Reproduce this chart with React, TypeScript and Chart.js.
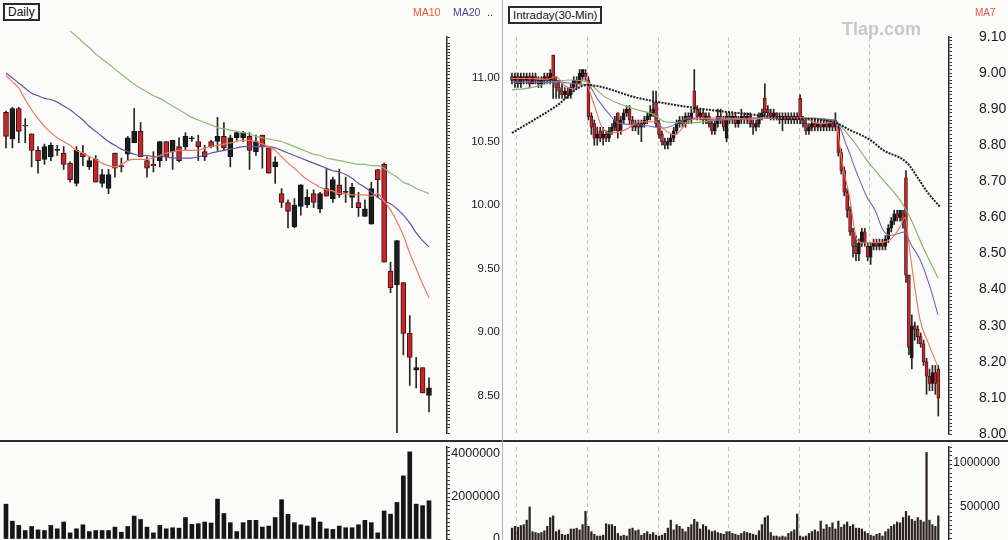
import React, { useEffect, useRef } from "react";
import { Chart, registerables } from "chart.js";

Chart.register(...registerables);

const FONT = "'Liberation Sans', Arial, Helvetica, sans-serif";

// ---------------- Daily panel data ----------------
const dailyOpen = [10.73, 10.52, 10.76, 10.63, 10.56, 10.43, 10.36, 10.38, 10.43, 10.41,
  10.33, 10.17, 10.41, 10.30, 10.36, 10.17, 10.13, 10.41, 10.31, 10.40,
  10.49, 10.58, 10.35, 10.32, 10.35, 10.50, 10.42, 10.46, 10.46, 10.52,
  10.50, 10.42, 10.50, 10.50, 10.54, 10.38, 10.53, 10.53, 10.54, 10.42,
  10.55, 10.45, 10.30, 10.09, 10.02, 9.83, 9.99, 10.00, 10.09, 9.97,
  10.13, 10.05, 10.16, 10.10, 10.06, 10.02, 9.91, 9.85, 10.28, 10.32,
  9.48, 9.37, 9.39, 8.99, 8.70, 8.72, 8.50];
const dailyHigh = [10.74, 10.77, 10.77, 10.68, 10.56, 10.46, 10.48, 10.49, 10.47, 10.46,
  10.34, 10.46, 10.47, 10.38, 10.39, 10.28, 10.28, 10.41, 10.37, 10.54,
  10.76, 10.65, 10.38, 10.42, 10.50, 10.50, 10.51, 10.53, 10.57, 10.54,
  10.55, 10.47, 10.51, 10.69, 10.65, 10.55, 10.58, 10.58, 10.57, 10.55,
  10.55, 10.45, 10.38, 10.13, 10.04, 10.05, 10.16, 10.12, 10.12, 10.10,
  10.29, 10.22, 10.28, 10.22, 10.17, 10.10, 10.04, 10.18, 10.28, 10.33,
  9.55, 9.72, 9.39, 9.13, 8.80, 8.72, 8.64];
const dailyLow = [10.45, 10.45, 10.49, 10.49, 10.30, 10.25, 10.32, 10.35, 10.39, 10.28,
  10.18, 10.15, 10.31, 10.28, 10.18, 10.14, 10.09, 10.22, 10.26, 10.35,
  10.49, 10.38, 10.22, 10.26, 10.30, 10.35, 10.28, 10.34, 10.43, 10.50,
  10.35, 10.35, 10.45, 10.43, 10.43, 10.30, 10.51, 10.50, 10.28, 10.39,
  10.29, 10.25, 10.17, 9.98, 9.82, 9.82, 9.92, 9.98, 9.98, 9.94,
  10.07, 10.02, 10.06, 10.02, 9.98, 9.91, 9.91, 9.85, 10.06, 9.55,
  9.31, 8.20, 8.82, 8.58, 8.56, 8.52, 8.37];
const dailyClose = [10.54, 10.76, 10.58, 10.62, 10.43, 10.35, 10.46, 10.47, 10.44, 10.32,
  10.20, 10.43, 10.38, 10.35, 10.18, 10.24, 10.24, 10.29, 10.30, 10.53,
  10.58, 10.38, 10.29, 10.31, 10.50, 10.38, 10.51, 10.35, 10.54, 10.53,
  10.46, 10.38, 10.46, 10.54, 10.45, 10.53, 10.57, 10.57, 10.43, 10.50,
  10.46, 10.25, 10.34, 10.02, 9.95, 10.00, 10.16, 10.06, 10.02, 10.09,
  10.07, 10.20, 10.08, 10.11, 10.14, 9.98, 9.97, 10.13, 10.20, 9.55,
  9.35, 9.72, 8.99, 8.80, 8.72, 8.52, 8.56];
const dailyMA10 = [11.02, 10.97, 10.92, 10.83, 10.75, 10.68, 10.62, 10.57, 10.53, 10.50,
  10.47, 10.43, 10.41, 10.38, 10.36, 10.33, 10.31, 10.30, 10.32, 10.35,
  10.36, 10.36, 10.36, 10.37, 10.39, 10.41, 10.42, 10.43, 10.43, 10.43,
  10.43, 10.45, 10.46, 10.47, 10.48, 10.49, 10.50, 10.51, 10.51, 10.50,
  10.48, 10.46, 10.43, 10.38, 10.33, 10.29, 10.24, 10.20, 10.17, 10.14,
  10.12, 10.11, 10.09, 10.09, 10.08, 10.08, 10.08, 10.07, 10.09, 10.03,
  9.96, 9.87, 9.76, 9.62, 9.50, 9.38, 9.27];
const dailyMA20 = [11.04, 11.00, 10.96, 10.92, 10.88, 10.86, 10.84, 10.83, 10.81, 10.78,
  10.75, 10.71, 10.67, 10.62, 10.58, 10.54, 10.50, 10.47, 10.44, 10.42,
  10.40, 10.39, 10.39, 10.38, 10.38, 10.38, 10.37, 10.37, 10.37, 10.37,
  10.38, 10.39, 10.41, 10.42, 10.43, 10.44, 10.45, 10.46, 10.46, 10.46,
  10.46, 10.46, 10.45, 10.43, 10.41, 10.39, 10.37, 10.35, 10.33, 10.31,
  10.29, 10.27, 10.26, 10.24, 10.21, 10.17, 10.14, 10.10, 10.06, 10.03,
  10.01, 9.97, 9.92, 9.86, 9.78, 9.72, 9.67];
const dailyMALong = [null, null, null, null, null, null, null, null, null, null,
  11.37, 11.33, 11.28, 11.24, 11.19, 11.15, 11.11, 11.07, 11.03, 10.99,
  10.95, 10.92, 10.89, 10.86, 10.84, 10.81, 10.78, 10.75, 10.72, 10.69,
  10.67, 10.65, 10.63, 10.61, 10.60, 10.59, 10.58, 10.57, 10.56, 10.54,
  10.53, 10.52, 10.51, 10.50, 10.48, 10.46, 10.44, 10.42, 10.40, 10.39,
  10.37, 10.36, 10.35, 10.34, 10.33, 10.32, 10.32, 10.31, 10.31, 10.29,
  10.25, 10.22, 10.18, 10.16, 10.13, 10.11, 10.09];
const dailyVolume = [1640000, 840000, 640000, 400000, 590000, 430000, 400000, 640000, 480000, 800000,
  290000, 480000, 670000, 350000, 400000, 400000, 400000, 560000, 320000, 590000,
  1080000, 920000, 560000, 290000, 640000, 480000, 530000, 510000, 1010000, 690000,
  720000, 800000, 750000, 1880000, 1200000, 770000, 350000, 770000, 880000, 880000,
  560000, 610000, 1010000, 1850000, 1160000, 770000, 670000, 610000, 1000000, 800000,
  480000, 450000, 610000, 530000, 530000, 670000, 880000, 770000, 290000, 1320000,
  1170000, 1720000, 2970000, 4100000, 1640000, 1570000, 1800000];
const dailyPriceLabels = [8.5, 9.0, 9.5, 10.0, 10.5, 11.0];
const dailyVolumeLabels = [0, 2000000, 4000000];

// ---------------- Intraday (30-min) panel data ----------------
const intradayOpen = [8.99, 8.98, 8.99, 8.97, 8.99, 8.98, 8.99, 8.97, 8.99, 8.98,
  8.97, 8.98, 8.99, 8.98, 9.05, 8.98, 8.96, 8.95, 8.94, 8.95,
  8.94, 8.96, 8.98, 8.97, 8.99, 9.00, 8.98, 8.88, 8.86, 8.82,
  8.84, 8.82, 8.83, 8.82, 8.84, 8.85, 8.89, 8.84, 8.87, 8.89,
  8.90, 8.87, 8.85, 8.86, 8.85, 8.86, 8.87, 8.88, 8.89, 8.92,
  8.86, 8.83, 8.81, 8.80, 8.81, 8.82, 8.84, 8.86, 8.87, 8.86,
  8.88, 8.87, 8.95, 8.90, 8.88, 8.89, 8.87, 8.88, 8.86, 8.84,
  8.86, 8.88, 8.87, 8.82, 8.88, 8.87, 8.88, 8.86, 8.87, 8.88,
  8.87, 8.88, 8.86, 8.85, 8.86, 8.88, 8.93, 8.90, 8.89, 8.88,
  8.89, 8.88, 8.87, 8.88, 8.87, 8.88, 8.87, 8.88, 8.93, 8.87,
  8.86, 8.84, 8.85, 8.86, 8.85, 8.86, 8.85, 8.86, 8.85, 8.86,
  8.85, 8.85, 8.78, 8.73, 8.67, 8.62, 8.56, 8.52, 8.50, 8.53,
  8.56, 8.52, 8.49, 8.52, 8.53, 8.52, 8.53, 8.52, 8.54, 8.57,
  8.59, 8.61, 8.60, 8.61, 8.71, 8.44, 8.21, 8.30, 8.29, 8.27,
  8.25, 8.20, 8.16, 8.14, 8.17, 8.18];
const intradayHigh = [9.00, 9.00, 9.00, 9.00, 9.00, 9.00, 9.00, 9.00, 9.00, 8.99,
  8.99, 9.00, 9.00, 9.01, 9.05, 8.99, 8.98, 8.97, 8.96, 8.96,
  8.97, 8.99, 8.99, 9.01, 9.01, 9.01, 8.99, 8.89, 8.87, 8.85,
  8.85, 8.85, 8.84, 8.85, 8.86, 8.88, 8.89, 8.88, 8.90, 8.91,
  8.91, 8.88, 8.87, 8.87, 8.87, 8.88, 8.89, 8.91, 8.95, 8.95,
  8.87, 8.84, 8.82, 8.82, 8.83, 8.85, 8.87, 8.88, 8.88, 8.89,
  8.89, 8.90, 9.01, 8.91, 8.90, 8.90, 8.89, 8.89, 8.87, 8.87,
  8.90, 8.90, 8.88, 8.89, 8.89, 8.89, 8.89, 8.88, 8.90, 8.89,
  8.89, 8.89, 8.87, 8.87, 8.89, 8.90, 8.97, 8.91, 8.90, 8.90,
  8.89, 8.89, 8.89, 8.89, 8.89, 8.89, 8.89, 8.89, 8.94, 8.88,
  8.87, 8.86, 8.87, 8.87, 8.87, 8.87, 8.87, 8.87, 8.87, 8.87,
  8.89, 8.86, 8.79, 8.74, 8.68, 8.63, 8.57, 8.55, 8.54, 8.57,
  8.57, 8.53, 8.53, 8.54, 8.54, 8.54, 8.54, 8.55, 8.58, 8.60,
  8.62, 8.62, 8.62, 8.62, 8.73, 8.44, 8.33, 8.31, 8.30, 8.28,
  8.26, 8.21, 8.18, 8.19, 8.19, 8.19];
const intradayLow = [8.97, 8.96, 8.96, 8.96, 8.97, 8.97, 8.96, 8.97, 8.97, 8.96,
  8.96, 8.97, 8.97, 8.97, 8.93, 8.93, 8.93, 8.93, 8.93, 8.93,
  8.93, 8.95, 8.96, 8.97, 8.98, 8.98, 8.87, 8.83, 8.80, 8.80,
  8.81, 8.80, 8.81, 8.81, 8.83, 8.84, 8.82, 8.83, 8.86, 8.88,
  8.86, 8.84, 8.84, 8.83, 8.81, 8.85, 8.86, 8.87, 8.88, 8.85,
  8.82, 8.80, 8.79, 8.79, 8.80, 8.81, 8.83, 8.85, 8.85, 8.85,
  8.86, 8.86, 8.89, 8.87, 8.87, 8.86, 8.86, 8.85, 8.83, 8.83,
  8.85, 8.86, 8.84, 8.81, 8.86, 8.86, 8.85, 8.85, 8.86, 8.86,
  8.86, 8.85, 8.83, 8.84, 8.85, 8.87, 8.88, 8.88, 8.87, 8.87,
  8.87, 8.86, 8.84, 8.86, 8.86, 8.86, 8.86, 8.86, 8.86, 8.85,
  8.83, 8.83, 8.84, 8.84, 8.84, 8.84, 8.84, 8.84, 8.84, 8.84,
  8.84, 8.77, 8.72, 8.66, 8.60, 8.55, 8.49, 8.48, 8.48, 8.52,
  8.52, 8.48, 8.47, 8.51, 8.51, 8.51, 8.51, 8.51, 8.53, 8.56,
  8.58, 8.59, 8.59, 8.57, 8.42, 8.22, 8.18, 8.26, 8.25, 8.24,
  8.19, 8.11, 8.12, 8.12, 8.11, 8.05];
const intradayClose = [8.98, 8.99, 8.97, 8.99, 8.98, 8.99, 8.97, 8.99, 8.98, 8.97,
  8.98, 8.99, 8.98, 9.00, 8.98, 8.96, 8.95, 8.94, 8.95, 8.94,
  8.96, 8.98, 8.97, 9.00, 9.01, 8.99, 8.88, 8.85, 8.82, 8.83,
  8.82, 8.83, 8.82, 8.84, 8.85, 8.87, 8.84, 8.87, 8.89, 8.90,
  8.87, 8.85, 8.86, 8.85, 8.86, 8.87, 8.88, 8.89, 8.90, 8.86,
  8.83, 8.81, 8.80, 8.81, 8.82, 8.84, 8.86, 8.87, 8.86, 8.88,
  8.87, 8.89, 8.90, 8.88, 8.89, 8.87, 8.88, 8.86, 8.84, 8.86,
  8.88, 8.87, 8.85, 8.88, 8.87, 8.88, 8.86, 8.87, 8.88, 8.87,
  8.88, 8.86, 8.85, 8.86, 8.88, 8.89, 8.89, 8.89, 8.88, 8.89,
  8.88, 8.87, 8.88, 8.87, 8.88, 8.87, 8.88, 8.87, 8.87, 8.86,
  8.84, 8.85, 8.86, 8.85, 8.86, 8.85, 8.86, 8.85, 8.86, 8.85,
  8.87, 8.78, 8.73, 8.67, 8.62, 8.56, 8.52, 8.50, 8.53, 8.56,
  8.53, 8.49, 8.52, 8.53, 8.52, 8.53, 8.52, 8.54, 8.57, 8.59,
  8.61, 8.60, 8.62, 8.59, 8.44, 8.24, 8.30, 8.29, 8.27, 8.25,
  8.20, 8.16, 8.14, 8.17, 8.14, 8.10];
// moving averages read at bar positions (bar index, value)
const intradayMA7Bar = [0, 6, 12, 15, 18, 22, 25, 26, 28.2, 30.6, 33.3, 38.4, 43.5, 48.6, 52, 55.4, 60.5, 70.7, 80, 90, 98, 105, 110, 110.5, 112.6, 115, 116, 117.3, 119.4, 124.1, 128.6, 132, 133.7, 135.4, 138.8, 141.2, 144.9];
const intradayMA7 = [8.985, 8.985, 8.983, 8.99, 8.965, 8.955, 8.99, 8.96, 8.906, 8.85, 8.834, 8.842, 8.865, 8.865, 8.842, 8.829, 8.87, 8.876, 8.872, 8.877, 8.876, 8.86, 8.865, 8.85, 8.74, 8.648, 8.593, 8.538, 8.53, 8.53, 8.538, 8.574, 8.60, 8.50, 8.316, 8.26, 8.186];
const intradayMAMidBar = [0, 8, 16, 22, 25.9, 29.3, 32.7, 36.1, 43.5, 52, 60.5, 70.7, 84.4, 98, 109.9, 114, 117.3, 120.7, 123.5, 126.2, 128.6, 132, 133.7, 135.4, 138.8, 142.2, 144.9];
const intradayMAMid = [8.975, 8.975, 8.975, 8.97, 8.967, 8.925, 8.89, 8.862, 8.856, 8.848, 8.876, 8.87, 8.876, 8.874, 8.87, 8.795, 8.723, 8.657, 8.62, 8.565, 8.55, 8.557, 8.56, 8.53, 8.483, 8.407, 8.33];
const intradayMASlowBar = [0, 6.1, 12.9, 19.7, 25.5, 31.6, 37.4, 42.9, 48.6, 52, 60, 70, 85, 100, 109.9, 115, 120.7, 126.2, 132, 135.4, 139.8, 144.9];
const intradayMASlow = [8.953, 8.959, 8.973, 8.981, 8.975, 8.934, 8.912, 8.898, 8.884, 8.865, 8.862, 8.87, 8.875, 8.876, 8.865, 8.823, 8.759, 8.704, 8.648, 8.60, 8.518, 8.432];
const intradayMALongBar = [0, 14.6, 25.5, 42.9, 59.9, 82.7, 92.2, 109.2, 115, 121.8, 126.2, 134.4, 138.8, 141.2, 145.6];
const intradayMALong = [8.834, 8.906, 8.967, 8.931, 8.906, 8.884, 8.876, 8.865, 8.842, 8.815, 8.787, 8.751, 8.70, 8.671, 8.629];
const intradayVolumeK = [260, 280, 270, 290, 300, 350, 500, 220, 210, 200,
  210, 230, 280, 380, 400, 220, 240, 190, 180, 190,
  250, 250, 260, 240, 300, 450, 280, 220, 190, 170,
  170, 180, 310, 300, 300, 280, 200, 170, 180, 170,
  250, 260, 230, 240, 180, 200, 220, 190, 210, 180,
  170, 180, 200, 260, 350, 240, 300, 280, 250, 220,
  270, 300, 360, 330, 250, 300, 280, 240, 220, 230,
  210, 200, 190, 220, 220, 200, 190, 180, 200, 220,
  210, 200, 190, 180, 230, 300, 380, 400, 210, 170,
  170, 160, 170, 160, 200, 220, 240, 420, 170, 160,
  170, 200, 220, 240, 220, 340, 250, 300, 270, 320,
  250, 340, 270, 300, 330, 280, 300, 260, 260, 250,
  220, 200, 180, 170, 190, 200, 170, 220, 250, 280,
  300, 330, 320, 380, 450, 400, 360, 340, 380, 350,
  330, 1120, 350, 300, 280, 400];
const sessionStartBars = [2, 26, 50, 74, 98, 122];
const intradayPriceLabels = [8.0, 8.1, 8.2, 8.3, 8.4, 8.5, 8.6, 8.7, 8.8, 8.9, 9.0, 9.1];
const intradayVolumeLabels = [0, 500000, 1000000];

// ---------------- helpers ----------------
function lineSet(xs: number[], ys: (number | null)[], color: string, width: number, dash: number[] = []) {
  const data: { x: number; y: number }[] = [];
  xs.forEach((x, i) => {
    const v = ys[i];
    if (v !== null && v !== undefined) data.push({ x, y: v });
  });
  return {
    type: "line",
    data,
    borderColor: color,
    borderWidth: width,
    borderDash: dash,
    pointRadius: 0,
    fill: false,
    cubicInterpolationMode: "monotone",
    order: 0,
    clip: false,
  };
}

function candleSets(open: number[], high: number[], low: number[], close: number[], bodyW: number, edgeW: number) {
  const idx = open.map((_, i) => i);
  const down = idx.map((i) => close[i] < open[i]);
  return [
    {
      type: "bar",
      data: idx.map((i) => ({ x: i, y: [low[i], high[i]] })),
      backgroundColor: "#2b2424",
      borderWidth: 0,
      barThickness: 1,
      grouped: false,
      order: 3,
    },
    {
      type: "bar",
      data: idx.map((i) => ({ x: i, y: [Math.min(open[i], close[i]), Math.max(open[i], close[i])] })),
      backgroundColor: down.map((d) => (d ? "#c8252b" : "#1c1c1c")),
      borderColor: down.map((d) => (d ? "#3a1214" : "#111111")),
      borderWidth: edgeW,
      borderSkipped: false,
      barThickness: bodyW,
      grouped: false,
      order: 2,
    },
  ];
}

// y axis: line + dense tick marks drawn by Chart.js; the numbers are drawn by a plugin
function yAxis(min: number, max: number, step: number, width: number) {
  return {
    type: "linear",
    position: "right",
    min,
    max,
    afterFit: (s: any) => {
      s.width = width;
      s.paddingTop = 0;
      s.paddingBottom = 0;
    },
    border: { display: true, color: "#2a2a2a", width: 1.5 },
    grid: { drawOnChartArea: false, drawTicks: true, tickLength: 3, color: "#333333", lineWidth: 1 },
    ticks: { stepSize: step, autoSkip: false, padding: 0, font: { family: FONT, size: 10 }, callback: () => "" },
  };
}

function axisLabels(values: number[], fmt: (v: number) => string, x: number, align: CanvasTextAlign, size: number) {
  return {
    id: "axisLabels",
    afterDraw(chart: any) {
      const s = chart.scales.y;
      const ctx = chart.ctx;
      ctx.save();
      ctx.font = `${size}px ${FONT}`;
      ctx.fillStyle = "#1a1a1a";
      ctx.textAlign = align;
      ctx.textBaseline = "middle";
      values.forEach((v) => ctx.fillText(fmt(v), x, s.getPixelForValue(v)));
      ctx.restore();
    },
  };
}

const baseOptions = (padding: any, scales: any) => ({
  responsive: false,
  maintainAspectRatio: false,
  animation: false,
  events: [],
  layout: { padding },
  plugins: { legend: { display: false }, tooltip: { enabled: false } },
  scales,
});

const DAILY_X = { type: "linear", min: -0.936, max: 68.81, display: false, offset: false };
const intradayX = () => ({
  type: "linear",
  min: -2.04,
  max: 148.64,
  offset: false,
  display: true,
  ticks: { display: false },
  grid: { drawTicks: false, color: "#c4c4c4", lineWidth: 1, offset: false },
  border: { display: false, dash: [4, 3] },
  afterBuildTicks: (s: any) => {
    s.ticks = sessionStartBars.map((b) => ({ value: b - 0.3 }));
  },
});

function buildDailyPrice() {
  const idx = dailyOpen.map((_, i) => i);
  return {
    type: "bar",
    data: {
      datasets: [
        lineSet(idx, dailyMA10, "#ef7a5c", 1.2),
        lineSet(idx, dailyMA20, "#5d55a6", 1.2),
        lineSet(idx, dailyMALong, "#8dbd6a", 1.2),
        ...candleSets(dailyOpen, dailyHigh, dailyLow, dailyClose, 5, 1),
      ],
    },
    options: baseOptions({ left: 0, right: 0, top: 37, bottom: 19 }, {
      x: DAILY_X,
      y: yAxis(8.205, 11.323, 0.025, 56),
    }),
    plugins: [axisLabels(dailyPriceLabels, (v) => v.toFixed(2), 500, "right", 11.5)],
  };
}

function buildDailyVolume() {
  const idx = dailyVolume.map((_, i) => i);
  return {
    type: "bar",
    data: {
      datasets: [
        {
          type: "bar",
          data: idx.map((i) => ({ x: i, y: dailyVolume[i] })),
          backgroundColor: "#161616",
          barThickness: 4,
          borderWidth: 0,
        },
      ],
    },
    options: baseOptions({ left: 0, right: 0, top: 15, bottom: 13 }, {
      x: DAILY_X,
      y: yAxis(0, 4330000, 200000, 56),
    }),
    plugins: [axisLabels(dailyVolumeLabels, (v) => String(v), 500, "right", 12.5)],
  };
}

function buildIntradayPrice() {
  return {
    type: "bar",
    data: {
      datasets: [
        lineSet(intradayMALongBar, intradayMALong, "#1e1e1e", 2, [2, 1.2]),
        lineSet(intradayMA7Bar, intradayMA7, "#ef7458", 1.1),
        lineSet(intradayMAMidBar, intradayMAMid, "#7566b6", 1.1),
        lineSet(intradayMASlowBar, intradayMASlow, "#7fb25e", 1.1),
        ...candleSets(intradayOpen, intradayHigh, intradayLow, intradayClose, 3, 0.8),
      ],
    },
    options: baseOptions({ left: 3, right: 0, top: 37, bottom: 18 }, {
      x: intradayX(),
      y: yAxis(8.0, 9.1, 0.01, 59),
    }),
    plugins: [axisLabels(intradayPriceLabels, (v) => v.toFixed(2), 476, "left", 14)],
  };
}

function buildIntradayVolume() {
  const idx = intradayVolumeK.map((_, i) => i);
  return {
    type: "bar",
    data: {
      datasets: [
        {
          type: "bar",
          data: idx.map((i) => ({ x: i, y: intradayVolumeK[i] * 1000 })),
          backgroundColor: "#2d2222",
          barThickness: 1.6,
          borderWidth: 0,
        },
      ],
    },
    options: baseOptions({ left: 3, right: 0, top: 15, bottom: 6 }, {
      x: intradayX(),
      y: yAxis(0, 1182000, 50000, 59),
    }),
    plugins: [axisLabels(intradayVolumeLabels, (v) => String(v), 497, "right", 12)],
  };
}

function ChartBox(props: { x: number; y: number; w: number; h: number; build: () => any }) {
  const ref = useRef<HTMLCanvasElement | null>(null);
  const { x, y, w, h, build } = props;
  useEffect(() => {
    if (!ref.current) return;
    const chart = new Chart(ref.current, build());
    return () => chart.destroy();
  }, [build]);
  return (
    <canvas
      ref={ref}
      width={w}
      height={h}
      style={{ position: "absolute", left: x, top: y, width: w, height: h }}
    />
  );
}

const boxStyle: React.CSSProperties = {
  position: "absolute",
  border: "2px solid #2b2b2b",
  background: "#ffffff",
  color: "#111",
  padding: "0 3px",
  lineHeight: "14px",
  whiteSpace: "nowrap",
};

export default function App() {
  return (
    <div
      style={{
        position: "fixed",
        left: 0,
        top: 0,
        width: 1008,
        height: 540,
        overflow: "hidden",
        background: "#fbfbfa",
        fontFamily: FONT,
      }}
    >
      <ChartBox x={0} y={0} w={503} h={452} build={buildDailyPrice} />
      <ChartBox x={0} y={432} w={503} h={120} build={buildDailyVolume} />
      <ChartBox x={503} y={0} w={505} h={452} build={buildIntradayPrice} />
      <ChartBox x={503} y={432} w={505} h={125} build={buildIntradayVolume} />

      <div style={{ position: "absolute", left: 0, top: 440, width: 1008, height: 2, background: "#2e2e2e" }} />
      <div style={{ position: "absolute", left: 502, top: 0, width: 1, height: 540, background: "#aab3c2" }} />

      <div style={{ ...boxStyle, left: 3, top: 3, fontSize: 12 }}>Daily</div>
      <div style={{ ...boxStyle, left: 508, top: 6, fontSize: 11.5 }}>Intraday(30-Min)</div>

      <div style={{ position: "absolute", left: 413, top: 6, fontSize: 10.5, color: "#e4583f" }}>MA10</div>
      <div style={{ position: "absolute", left: 453, top: 6, fontSize: 10.5, color: "#5a3f8e" }}>MA20</div>
      <div style={{ position: "absolute", left: 487, top: 6, fontSize: 10.5, color: "#333" }}>..</div>
      <div style={{ position: "absolute", left: 975, top: 7, fontSize: 10, color: "#e4583f" }}>MA7</div>
      <div style={{ position: "absolute", left: 842, top: 19, fontSize: 18, fontWeight: 700, color: "#c8c8c8" }}>Tlap.com</div>
    </div>
  );
}
